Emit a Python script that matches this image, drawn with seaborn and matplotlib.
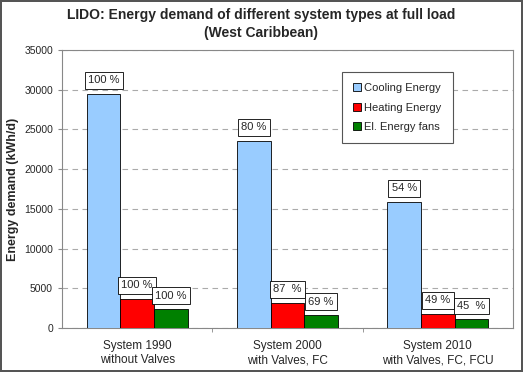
import pandas as pd
import seaborn as sns
import matplotlib.pyplot as plt
from matplotlib.ticker import FixedLocator

# Dane
systems = ["System 1990\nwithout Valves", "System 2000\nwith Valves, FC", "System 2010\nwith Valves, FC, FCU"]
energy_types = ["Cooling Energy", "Heating Energy", "El. Energy fans"]
cooling = [29500, 23600, 15900]
heating = [3700, 3200, 1800]
fans = [2400, 1650, 1080]
cooling_labels = ["100 %", "80 %", "54 %"]
heating_labels = ["100 %", "87  %", "49 %"]
fans_labels = ["100 %", "69 %", "45  %"]

df = pd.DataFrame({
    "System": systems * 3,
    "Type": [t for t in energy_types for _ in systems],
    "Value": cooling + heating + fans,
})

sns.set_style("white")
plt.rcParams['font.family'] = ['Liberation Sans', 'DejaVu Sans']

fig = plt.figure(figsize=(5.23, 3.72), dpi=100, linewidth=1.5, edgecolor='#555555')
ax = fig.add_axes([62/523, 1 - 328/372, 451/523, 278/372])

sns.barplot(
    data=df, x="System", y="Value", hue="Type",
    palette=["#99CCFF", "#FF0000", "#008000"], saturation=1,
    edgecolor="black", linewidth=0.6, width=0.67, ax=ax, zorder=3
)

# Etykiety procentowe w ramkach
for cont, labs in zip(ax.containers, [cooling_labels, heating_labels, fans_labels]):
    ax.bar_label(cont, labels=labs, padding=6, fontsize=8,
                 bbox=dict(boxstyle="square,pad=0.3", fc="white", ec="black", lw=0.6))

ax.set_ylim(0, 35000)
ax.set_yticks(range(0, 35001, 5000))
ax.yaxis.grid(True, linestyle=(0, (5, 4)), color="#aaaaaa", linewidth=0.8, zorder=0)
ax.set_axisbelow(True)
ax.tick_params(axis='y', labelsize=7.5, length=3, direction='out', left=True, color='#888888')
ax.tick_params(axis='x', labelsize=8.5, length=0, pad=9)
ax.xaxis.set_minor_locator(FixedLocator([0.5, 1.5]))
ax.tick_params(axis='x', which='minor', length=3, bottom=True, color='#888888')
for s in ax.spines.values():
    s.set_color('#888888')
    s.set_linewidth(0.8)

ax.set_xlabel("")
ax.set_ylabel("Energy demand (kWh/d)", fontsize=9, fontweight='bold')

leg = ax.legend(loc='upper left', bbox_to_anchor=(280/451, 256/278), fontsize=8,
                frameon=True, fancybox=False, edgecolor='#555555', framealpha=1,
                handlelength=0.7, handleheight=0.7, labelspacing=0.85, borderpad=1.0,
                handletextpad=0.3, borderaxespad=0)
leg.get_frame().set_linewidth(0.8)

fig.text(0.5, 1 - 24/372, "LIDO: Energy demand of different system types at full load\n(West Caribbean)",
         ha='center', va='center', fontsize=10, fontweight='bold', linespacing=1.35)

plt.savefig("out.png", dpi=100)
